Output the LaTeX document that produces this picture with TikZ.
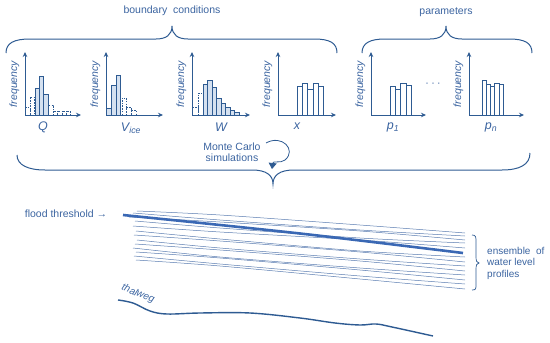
\documentclass[tikz,border=0pt]{standalone}
\usepackage{fontspec}
\setmainfont{Liberation Sans}
\usetikzlibrary{arrows.meta}
\definecolor{ink}{HTML}{2E5B92}
\definecolor{txt}{HTML}{3B64A0}
\definecolor{fillb}{HTML}{D5E1F0}
\definecolor{thickc}{HTML}{3A68B4}
\definecolor{thinc}{HTML}{5B7DB1}
\begin{document}
\begin{tikzpicture}[x=1pt,y=-1pt,
  axis/.style={draw=ink, line width=0.8pt, -{Stealth[length=5pt,width=4.5pt]}},
  barS/.style={draw=ink, line width=0.6pt, fill=fillb},
  barD/.style={draw=ink, line width=0.6pt, dash pattern=on 1.5pt off 1.2pt},
  barW/.style={draw=ink, line width=0.6pt, fill=white},
  freq/.style={rotate=90, font=\fontsize{10.5}{12}\selectfont\itshape, text=txt, inner sep=0pt},
  var/.style={font=\fontsize{12.5}{14}\selectfont\itshape, text=txt, inner sep=0pt},
  lbl/.style={font=\fontsize{10.5}{12.5}\selectfont, text=txt, inner sep=0pt},
  brace/.style={draw=ink, line width=1pt},
  prof/.style={draw=thinc, line width=0.5pt},
]
\useasboundingbox (0,0) rectangle (550,343);

% axes
\foreach \n/\ox/\ex in {q/25/81, v/106/163, w/192/250, x/278/336, a/371/426, b/469/524} {
  \coordinate (\n o) at (\ox,115);
  \coordinate (\n y) at (\ox,52);
  \coordinate (\n x) at (\ex,115);
  \node[freq] (\n f) at (\ox-10.5,84) {frequency};
}

% bars Q
\draw[barD] (25,115) rectangle (30,107);
\draw[barD] (30,115) rectangle (34,97);
\draw[barS] (35,115) rectangle (39.5,88);
\draw[barS] (39.5,115) rectangle (43.5,76);
\draw[barS] (43.5,115) rectangle (48,94);
\draw[barD] (48,115) rectangle (53,105);
\draw[barD] (53,115) rectangle (57.5,111);
\draw[barD] (57.5,115) rectangle (62,111);
\draw[barD] (62,115) rectangle (66.5,111);
\draw[barD] (66.5,115) rectangle (70.5,111);
% bars Vice
\draw[barS] (106.5,115) rectangle (111.5,108);
\draw[barS] (111.5,115) rectangle (116,85);
\draw[barS] (116,115) rectangle (120.5,75);
\draw[barD] (122,115) rectangle (126.5,98);
\draw[barD] (126.5,115) rectangle (131,107);
\draw[barD] (131,115) rectangle (136,110);
% bars W
\draw[barD] (192.5,115) rectangle (198.5,107);
\draw[barD] (198.5,115) rectangle (203,93);
\draw[barS] (203,115) rectangle (207.5,84);
\draw[barS] (207.5,115) rectangle (212,80);
\draw[barS] (212,115) rectangle (216.5,87);
\draw[barS] (216.5,115) rectangle (221,98);
\draw[barS] (221,115) rectangle (225.5,103);
\draw[barS] (225.5,115) rectangle (230,107);
\draw[barS] (230,115) rectangle (234.5,110);
\draw[barS] (234.5,115) rectangle (239,112);
% bars x
\draw[barW] (297,115) rectangle (302,86);
\draw[barW] (302,115) rectangle (307,83);
\draw[barW] (307,115) rectangle (313,89);
\draw[barW] (313,115) rectangle (318,83);
\draw[barW] (318,115) rectangle (323,86);
% bars p1
\draw[barW] (390,115) rectangle (395.5,86);
\draw[barW] (395.5,115) rectangle (400.5,89);
\draw[barW] (400.5,115) rectangle (406,83);
\draw[barW] (406,115) rectangle (411.5,85);
% bars pn
\draw[barW] (482,115) rectangle (486.5,80);
\draw[barW] (486.5,115) rectangle (490.5,84);
\draw[barW] (490.5,115) rectangle (494.5,86);
\draw[barW] (494.5,115) rectangle (499,83);
\draw[barW] (499,115) rectangle (503,84);

\foreach \n in {q,v,w,x,a,b} {
  \draw[axis] (\n o) -- (\n y);
  \draw[axis] (\n o) -- (\n x);
}

% variable labels
\node[var] (lq) at (43,127) {Q};
\node[var] (lv) at (131,128) {V\textsubscript{ice}};
\node[var] (lw) at (221,127) {W};
\node[var] (lx) at (297,126) {x};
\node[var] (la) at (393,127.5) {p\textsubscript{1}};
\node[var] (lb) at (491,127.5) {p\textsubscript{n}};
\node[lbl] (dots) at (433,85) {·\hspace{2.5pt}·\hspace{2.5pt}·};

% top braces
\node[lbl] (bc) at (172,11) {boundary\ \ conditions};
\node[lbl] (pa) at (446,12) {parameters};
\draw[brace] (6,53) .. controls (6,43) and (14,39) .. (30,39) -- (156,39)
  .. controls (166,39) and (172,35) .. (172,26)
  .. controls (172,35) and (178,39) .. (188,39) -- (314,39)
  .. controls (330,39) and (337,43) .. (337,53);
\draw[brace] (362,53) .. controls (362,43) and (370,39) .. (385,39) -- (430,39)
  .. controls (440,39) and (446,35) .. (446,26)
  .. controls (446,35) and (452,39) .. (462,39) -- (509,39)
  .. controls (525,39) and (532,43) .. (532,53);

% bottom brace
\draw[brace] (17,155) .. controls (17,165) and (28,170) .. (45,170) -- (252,170)
  .. controls (266,170) and (273,175) .. (273,184)
  .. controls (273,175) and (280,170) .. (294,170) -- (502,170)
  .. controls (519,170) and (530,165) .. (530,153);

% Monte Carlo
\node[lbl, align=center] (mc) at (232,152) {Monte Carlo\\[-1pt]simulations};
\coordinate (mcs) at (266,143);
\coordinate (mce) at (272,169);
\draw[draw=ink, line width=0.8pt, -{Triangle[length=6pt,width=8pt]}]
  (mcs) .. controls (282,134) and (297,150) .. (285,160)
  .. controls (280,164) and (273,160) .. (mce);

% flood threshold
\node[lbl] (ft) at (66,214) {flood threshold →};

% ensemble of thin profiles
\foreach \lx/\ly/\ya/\yb/\ry in {
  137/211/215/225/233, 133/213/220/230/236, 129/217/222/231/240,
  135/221/228/238/243, 133/226/232/240/248, 136/231/239/251/257,
  134/235/241/252/262, 137/240/248/259/266, 135/244/250/261/271,
  133/248/257/268/275, 136/252/258/270/280, 134/256/264/276/284,
  136/260/266/279/289} {
  \draw[prof] plot[smooth] coordinates {(\lx,\ly) (220,\ya) (360,\yb) (465,\ry)};
}
\coordinate (t1) at (123,215);
\coordinate (t2) at (463,253);
\draw[draw=thickc, line width=2.6pt] plot[smooth] coordinates {(t1) (300,233.5) (t2)};

% right brace
\draw[draw=ink, line width=0.7pt] (472,235) .. controls (476,235) and (476,237) .. (476,242) -- (476,257)
  .. controls (476,261) and (477,263) .. (479,263)
  .. controls (477,263) and (476,265) .. (476,269) -- (476,284)
  .. controls (476,289) and (476,290) .. (472,290);
\node[lbl, font=\fontsize{10}{11.5}\selectfont, align=left, anchor=west] (ens) at (487,263) {ensemble\ \ of\\water level\\profiles};

% thalweg
\draw[draw=ink, line width=1.4pt] plot[smooth, tension=0.6] coordinates {(118,300) (133,303) (150,311) (167,314) (200,313) (250,313) (300,318) (335,323) (360,325) (376,324) (392,327) (433,336)};
\node[lbl, font=\fontsize{10}{12}\selectfont\itshape, rotate=-22] (tw) at (138,294) {thalweg};
\end{tikzpicture}
\end{document}
